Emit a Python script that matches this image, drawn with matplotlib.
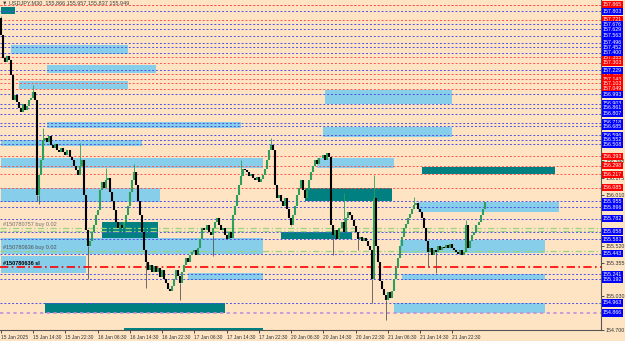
import matplotlib
matplotlib.use('Agg')
import matplotlib.pyplot as plt
import matplotlib.transforms as mtransforms
from matplotlib.patches import Rectangle

# USDJPY M30 closes, one per bar (open of each bar = previous close)
first_open = 157.74
closes = [
    157.57, 157.35, 157.31, 157.37, 157.33, 157.18, 156.94, 156.99, 156.92, 156.86,
    156.82, 156.90, 156.84, 156.88, 156.94, 156.96, 157.02, 156.94, 156.01, 156.21,
    156.35, 156.55, 156.57, 156.53, 156.59, 156.50, 156.47, 156.51, 156.45, 156.43,
    156.47, 156.43, 156.40, 156.45, 156.38, 156.35, 156.30, 156.26, 156.21, 156.30,
    156.35, 156.01, 155.67, 155.52, 155.57, 155.65, 155.72, 155.82, 155.87, 156.06,
    156.14, 156.08, 156.16, 156.18, 156.04, 155.96, 155.87, 155.75, 155.69, 155.72,
    155.69, 155.75, 155.82, 155.91, 156.04, 156.16, 156.24, 156.11, 155.96, 155.82,
    155.65, 155.48, 155.36, 155.28, 155.33, 155.26, 155.32, 155.26, 155.30, 155.22,
    155.28, 155.20, 155.16, 155.10, 155.08, 155.13, 155.20, 155.28, 155.23, 155.16,
    155.26, 155.33, 155.40, 155.36, 155.43, 155.46, 155.48, 155.43, 155.50, 155.59,
    155.69, 155.67, 155.72, 155.65, 155.62, 155.69, 155.75, 155.79, 155.72, 155.67,
    155.69, 155.62, 155.59, 155.65, 155.60, 155.82, 155.91, 156.01, 156.11, 156.20,
    156.27, 156.26, 156.24, 156.20, 156.22, 156.18, 156.16, 156.19, 156.14, 156.17,
    156.21, 156.27, 156.35, 156.45, 156.50, 156.45, 156.11, 155.98, 156.01, 155.96,
    155.91, 155.98, 155.88, 155.79, 155.72, 155.82, 155.91, 156.01, 156.08, 156.16,
    156.06, 155.98, 156.06, 156.16, 156.24, 156.30, 156.35, 156.32, 156.37, 156.37,
    156.40, 156.35, 156.42, 156.38, 155.72, 155.62, 155.67, 155.59, 155.69, 155.75,
    155.65, 155.79, 155.85, 155.82, 155.77, 155.71, 155.65, 155.59, 155.61, 155.57,
    155.60, 155.57, 155.52, 155.48, 155.20, 155.98, 155.52, 155.36, 155.18, 155.10,
    155.04, 154.99, 155.07, 155.01, 155.08, 155.20, 155.30, 155.40, 155.52, 155.61,
    155.69, 155.73, 155.79, 155.83, 155.88, 155.92, 155.94, 155.88, 155.85, 155.79,
    155.69, 155.57, 155.46, 155.50, 155.43, 155.48, 155.46, 155.52, 155.48, 155.51,
    155.50, 155.53, 155.50, 155.54, 155.50, 155.48, 155.46, 155.44, 155.48, 155.43,
    155.46, 155.72, 155.50, 155.57, 155.62, 155.65, 155.72, 155.75, 155.82, 155.88,
    155.949,
]
# wicks that reach past the body: (bar, price)
wick_highs = [(0, 157.76), (16, 157.08), (21, 156.67), (39, 156.52), (52, 156.28),
              (66, 156.32), (119, 156.35), (134, 156.57), (170, 156.03), (185, 156.21),
              (205, 155.99), (231, 155.77)]
wick_lows = [(18, 155.96), (19, 155.93), (43, 155.20), (72, 155.11), (89, 154.99),
             (105, 155.42), (144, 155.71), (165, 155.43), (177, 155.48), (184, 154.96),
             (191, 154.80), (212, 155.31), (216, 155.25)]

red_levels = [157.868, 157.865, 157.721, 157.355, 157.303, 157.187, 157.143, 157.103,
              157.049, 156.393, 156.298, 156.217, 156.085]
blue_levels = [157.803, 157.676, 157.629, 157.563, 157.496, 157.452, 157.400, 157.229,
               156.993, 156.903, 156.861, 156.807, 156.718, 156.685, 156.596, 156.552,
               156.508, 155.955, 155.896, 155.782, 155.658, 155.581, 155.443, 155.241,
               155.192, 154.963]
plum_levels = [154.866]
plain_ticks = [156.348, 156.175, 156.010, 155.520, 155.355, 155.030, 154.700]
entry_levels = [155.691, 155.662, 155.467]
sl_levels = [155.315]

# zones: (bar start, bar end, price low, price high)
light_zones = [
    (5, 63, 157.386, 157.474), (23, 77, 157.201, 157.279), (9, 63, 157.045, 157.123),
    (23, 119, 156.665, 156.724), (0, 70, 156.490, 156.548), (0, 130, 156.276, 156.373),
    (0, 79, 155.945, 156.081), (0, 130, 155.438, 155.594), (0, 42, 155.253, 155.419),
    (93, 130, 155.185, 155.253), (161, 224, 156.899, 157.035), (160, 224, 156.578, 156.675),
    (157, 195, 156.276, 156.373), (207, 277, 155.847, 155.945), (198, 270, 155.448, 155.574),
    (199, 270, 155.185, 155.243), (195, 270, 154.863, 154.961),
]
teal_zones = [
    (0, 7, 157.776, 157.844), (50, 78, 155.594, 155.750), (151, 194, 155.954, 156.081),
    (139, 174, 155.584, 155.652), (209, 275, 156.217, 156.285), (22, 111, 154.863, 154.961),
    (61, 130, 154.700, 154.717),
]

xtick_bars = [0, 16, 32, 48, 64, 80, 96, 112, 128, 144, 160, 176, 192, 208, 224]
xtick_labels = ['15 Jan 2025', '15 Jan 14:30', '15 Jan 22:30', '16 Jan 06:30',
                '16 Jan 14:30', '16 Jan 22:30', '17 Jan 06:30', '17 Jan 14:30',
                '17 Jan 22:30', '20 Jan 06:30', '20 Jan 14:30', '20 Jan 22:30',
                '21 Jan 06:30', '21 Jan 14:30', '21 Jan 22:30']

bg = '#ffe4c4'
font = ['Liberation Sans', 'DejaVu Sans']

fig = plt.figure(figsize=(6.25, 3.41), dpi=100, facecolor=bg)
ax = fig.add_axes([0, 11 / 341, 601 / 625, 330 / 341], facecolor=bg)
ax.set_xlim(-0.5, 297.8)
ax.set_ylim(154.70, 157.912)

for x0, x1, lo, hi in light_zones:
    ax.add_patch(Rectangle((x0, lo), x1 - x0, hi - lo, color='#87ceeb', lw=0, zorder=1))
for x0, x1, lo, hi in teal_zones:
    ax.add_patch(Rectangle((x0, lo), x1 - x0, hi - lo, color='#008080', lw=0, zorder=1.1))

for p in red_levels:
    ax.axhline(p, color='#ff5050', lw=0.7, ls=(0, (2, 2)), zorder=2)
for p in blue_levels:
    ax.axhline(p, color='#5050e6', lw=0.7, ls=(0, (2, 2)), zorder=2)
for p in plum_levels:
    ax.axhline(p, color='#c08fd8', lw=1.2, ls=(0, (2, 2)), zorder=2)
for p in entry_levels:
    ax.axhline(p, color='#9ad47a', lw=0.9, ls=(0, (5, 2, 1, 2)), zorder=2)
for p in sl_levels:
    ax.axhline(p, color='#ff0000', lw=1.2, ls=(0, (5, 2, 1, 2)), zorder=2)

# candles
opens = [first_open] + closes[:-1]
for i, (o, c) in enumerate(zip(opens, closes)):
    col = '#2e9e5b' if c >= o else '#000000'
    ax.vlines(i, min(o, c), max(o, c), color=col, lw=1.5, zorder=4)
for i, p in wick_highs:
    ax.vlines(i, max(opens[i], closes[i]), p, color='#2e9e5b', lw=0.6, zorder=3.9)
for i, p in wick_lows:
    ax.vlines(i, p, min(opens[i], closes[i]), color='#555555', lw=0.6, zorder=3.9)

# order labels
ax.text(1, 155.700, '#150780757 buy 0.02', fontsize=4, family=font, color='#707070',
        va='bottom', zorder=5)
ax.text(1, 155.480, '#150780636 buy 0.02', fontsize=4, family=font, color='#505050',
        va='bottom', zorder=5)
ax.text(1, 155.325, '#150780636 sl', fontsize=4, family=font, color='#000000',
        va='bottom', zorder=5, fontweight='bold')

ax.text(0.004, 0.998, '\u25bc USDJPY,M30  155.866 155.957 155.837 155.949',
        transform=ax.transAxes, fontsize=4, family=font, color='#404040',
        va='top', ha='left', zorder=6)

# axes
for s in ['top', 'left']:
    ax.spines[s].set_visible(False)
for s in ['right', 'bottom']:
    ax.spines[s].set_color('#555555')
    ax.spines[s].set_linewidth(0.8)
ax.yaxis.tick_right()
ax.set_yticks(plain_ticks)
ax.set_yticklabels(['%.3f' % p for p in plain_ticks], fontsize=3.8, family=font)
ax.tick_params(axis='y', length=2, pad=1, width=0.6, colors='#303030')
ax.set_xticks(xtick_bars)
ax.set_xticklabels(xtick_labels, fontsize=3.5, family=font, ha='left')
ax.tick_params(axis='x', length=2, pad=1.5, width=0.6, colors='#303030')

trans = mtransforms.blended_transform_factory(ax.transAxes, ax.transData)
for levels, col in [(red_levels, '#ff0000'), (blue_levels, '#0000ff'),
                    (plum_levels, '#0000ff')]:
    for p in levels:
        ax.text(1.003, p, '%.3f' % p, transform=trans, fontsize=3.8, family=font,
                color='white', va='center', ha='left', clip_on=False, zorder=7,
                bbox=dict(boxstyle='square,pad=0.2', fc=col, ec='none'))

fig.savefig('out.png', dpi=100, facecolor=bg)
